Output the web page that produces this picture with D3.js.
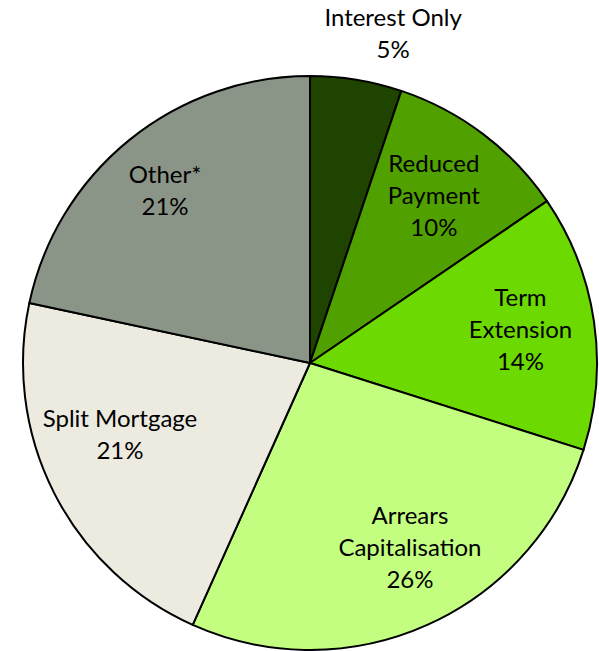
<!DOCTYPE html>
<html>
<head>
<meta charset="utf-8">
<script src="https://cdn.jsdelivr.net/npm/d3@7"></script>
<style>
  html, body { margin: 0; padding: 0; background: #fff; }
  svg { display: block; }
  text { font-family: Lato, "Open Sans", sans-serif; font-size: 24px; fill: #000; }
</style>
</head>
<body>
<svg id="chart" width="599" height="651"></svg>
<script>
// Restructuring arrangement types, share of total
const categories = ["Interest Only", "Reduced Payment", "Term Extension", "Arrears Capitalisation", "Split Mortgage", "Other*"];
const shares = [5, 10, 14, 26, 21, 21];
const labelLines = [["Interest Only"], ["Reduced", "Payment"], ["Term", "Extension"], ["Arrears", "Capitalisation"], ["Split Mortgage"], ["Other*"]];
const colors = ["#1f4400", "#50a000", "#6cd900", "#c3fe80", "#edeae0", "#8a9588"];

const svg = d3.select("#chart");
const cx = 310, cy = 363, r = 287;

const data = categories.map((c, i) => ({ name: c, value: shares[i], lines: labelLines[i], color: colors[i] }));

const pie = d3.pie().value(d => d.value).sort(null);
const arcs = pie(data);
const arc = d3.arc().innerRadius(0).outerRadius(r);

const g = svg.append("g").attr("transform", `translate(${cx},${cy})`);

g.selectAll("path")
  .data(arcs)
  .join("path")
  .attr("d", arc)
  .attr("fill", d => d.data.color)
  .attr("stroke", "#000")
  .attr("stroke-width", 2)
  .attr("stroke-linejoin", "round");

// Label placement: radius and angular nudge (radians) per slice; the narrow
// first slice is labelled outside the rim
const labelPlacement = [
  { radius: 340, turn: 0.085 },
  { radius: 208, turn: -0.01 },
  { radius: 213, turn: -0.01 },
  { radius: 210, turn: -0.075 },
  { radius: 203, turn: 0.11 },
  { radius: 225, turn: -0.02 }
];
const lineH = 32;

arcs.forEach((a, i) => {
  const p = labelPlacement[i];
  const ang = (a.startAngle + a.endAngle) / 2 + p.turn;
  const x = Math.sin(ang) * p.radius;
  const y = -Math.cos(ang) * p.radius;
  const lines = a.data.lines.concat([a.data.value + "%"]);
  const t = g.append("text").attr("text-anchor", "middle");
  const top = y - (lines.length - 1) * lineH / 2;
  lines.forEach((ln, k) => {
    t.append("tspan")
      .attr("x", x)
      .attr("y", top + k * lineH)
      .attr("dy", "0.35em")
      .text(ln);
  });
});
</script>
</body>
</html>
